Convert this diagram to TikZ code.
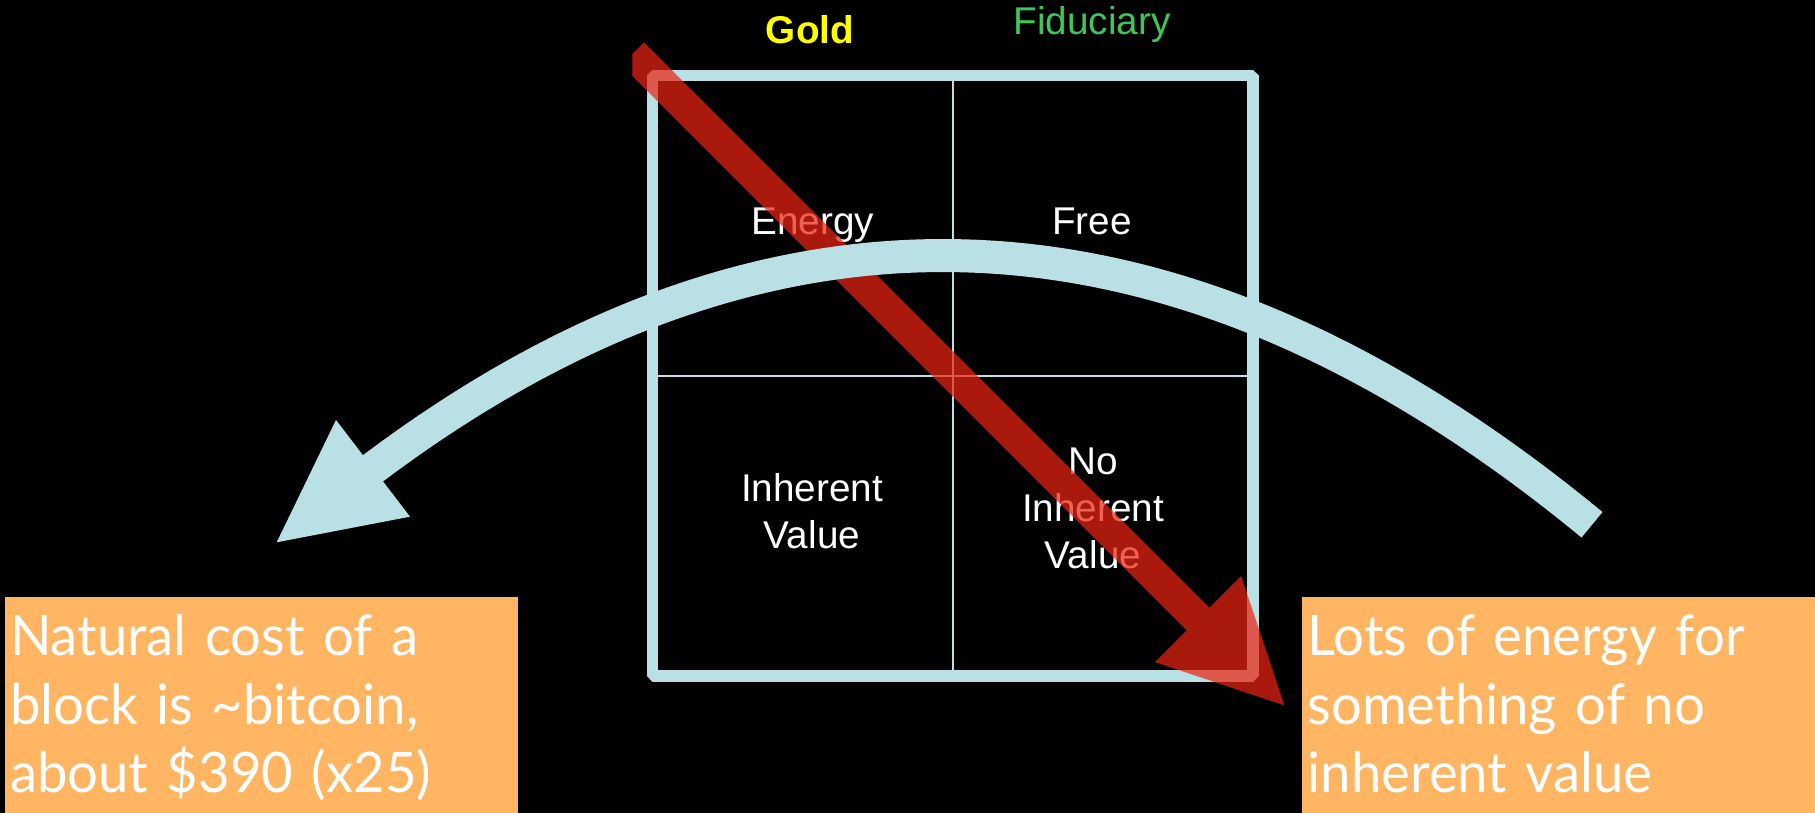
\documentclass[tikz,border=0pt]{standalone}
\usepackage{fontspec}
\setmainfont{Liberation Sans}
\newfontfamily\notefont[FakeStretch=0.975]{Lato}
\definecolor{gridcyan}{RGB}{185,224,228}
\definecolor{noteorange}{RGB}{255,181,98}
\definecolor{goldyellow}{RGB}{255,255,0}
\definecolor{fidgreen}{RGB}{60,200,90}
\definecolor{arrowred}{RGB}{236,36,20}

\begin{document}
\begin{tikzpicture}[x=0.01cm, y=-0.01cm,
  cell/.style={text=white, font=\fontsize{11}{13.37}\selectfont, align=center, inner sep=0pt, anchor=base},
  colhead/.style={font=\fontsize{11}{13.37}\selectfont, inner sep=0pt, anchor=base},
  note/.style={fill=noteorange, text=white, font=\notefont\fontsize{15.88}{19.43}\selectfont,
    align=left, anchor=north west, inner xsep=0.053cm, inner ysep=0.14cm},
  framebox/.style={draw=gridcyan, line width=0.115cm, line join=bevel},
  divider/.style={draw=gridcyan, line width=0.027cm},
  bigarc/.style={draw=gridcyan, line width=0.33cm},
  archead/.style={fill=gridcyan},
  redarrow/.style={fill=arrowred, fill opacity=0.72},
]
% page and background
\useasboundingbox (0,0) rectangle (1815,813);
\fill[black] (0,0) rectangle (1815,813);

% orange notes at the bottom corners
\node[note, text width=5.026cm] (costnote) at (4,596)
  {\rule{0pt}{0.45cm}Natural cost of a\\block is \textasciitilde bitcoin,\\about \$390 (x25)\rule[-0.25cm]{0pt}{0.25cm}};
\node[note, text width=5.2cm] (energynote) at (1301.7,596)
  {\rule{0pt}{0.45cm}Lots of energy for\\something of no\\inherent value\rule[-0.25cm]{0pt}{0.25cm}};

% two-by-two grid
\coordinate (gridNW) at (652.5,75.5);
\coordinate (gridSE) at (1253,676);
\coordinate (midTop) at (953,75.5);
\coordinate (midBottom) at (953,676);
\coordinate (midLeft) at (652.5,376);
\coordinate (midRight) at (1253,376);
\draw[divider] (midTop) -- (midBottom);
\draw[divider] (midLeft) -- (midRight);
\draw[framebox] (gridNW) rectangle (gridSE);

% column headings
\node[colhead, text=goldyellow, font=\fontsize{11}{13.37}\selectfont\bfseries] (gold) at (810,43.3) {Gold};
\node[colhead, text=fidgreen] (fiduciary) at (1092,35) {Fiduciary};

% cell labels (multi-line labels are anchored at their last baseline)
\node[cell] (energy) at (812.7,235) {Energy};
\node[cell] (free) at (1091.8,235) {Free};
\node[cell] (inherent) at (812,548.3) {Inherent\\Value};
\node[cell] (noinherent) at (1093,568.3) {No\\Inherent\\Value};

% red diagonal arrow (semi-transparent)
\coordinate (redTailTop) at (644,42.4);
\coordinate (redTailMid) at (632.3,54.1);
\coordinate (redTailLow) at (632.3,75.9);
\coordinate (redNeckUp) at (1209.3,607.7);
\coordinate (redBarbUp) at (1241.1,575.9);
\coordinate (redTip) at (1284.3,705.3);
\coordinate (redBarbLow) at (1154.9,662.1);
\coordinate (redNeckLow) at (1186.7,630.3);
\fill[redarrow] (redTailTop) -- (redNeckUp) -- (redBarbUp) -- (redTip)
  -- (redBarbLow) -- (redNeckLow) -- (redTailLow) -- (redTailMid) -- cycle;

% large curved arrow
\coordinate (arcTail) at (1592,524.8);
\coordinate (arcBase) at (373,468.3);
\coordinate (arcInside) at (365.1,474.4);
\coordinate (arcTip) at (276.7,542.3);
\coordinate (arcBarbUp) at (336,420);
\coordinate (arcBarbLow) at (410,516.7);
\draw[bigarc] (arcTail) .. controls (1176.3,182.3) and (770,170) .. (arcBase) -- (arcInside);
\fill[archead] (arcTip) -- (arcBarbUp) -- (arcBarbLow) -- cycle;
\end{tikzpicture}
\end{document}
